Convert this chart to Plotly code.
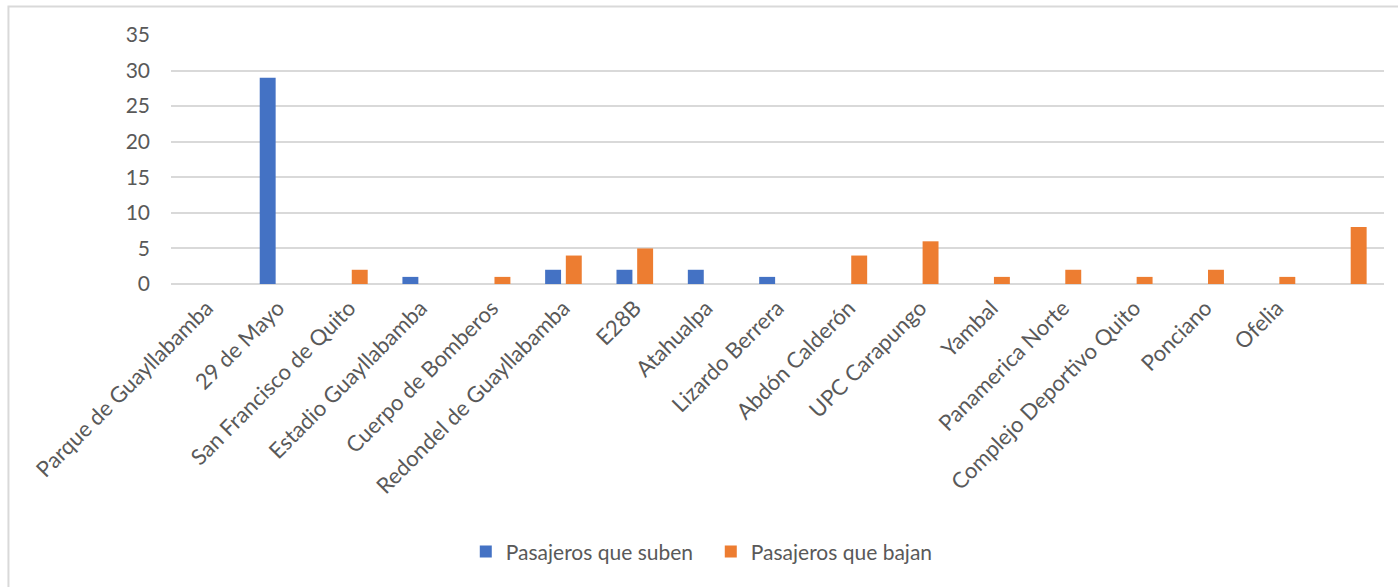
import plotly.graph_objects as go

# Paradas de la ruta (la última categoría no lleva etiqueta)
paradas = [
    "Parque de Guayllabamba", "29 de Mayo", "San Francisco de Quito",
    "Estadio Guayllabamba", "Cuerpo de Bomberos", "Redondel de Guayllabamba",
    "E28B", "Atahualpa", "Lizardo Berrera", "Abdón Calderón", "UPC Carapungo",
    "Yambal", "Panamerica Norte", "Complejo Deportivo Quito", "Ponciano",
    "Ofelia", "",
]
suben = [0, 29, 0, 1, 0, 2, 2, 2, 1, 0, 0, 0, 0, 0, 0, 0, 0]
bajan = [0, 0, 2, 0, 1, 4, 5, 0, 0, 4, 6, 1, 2, 1, 2, 1, 8]
y_ticks = [0, 5, 10, 15, 20, 25, 30, 35]

FONT = "Lato"
TXT = "#595959"
GRID = "#D9D9D9"

pos = list(range(len(paradas)))

fig = go.Figure()
fig.add_trace(go.Bar(x=pos, y=suben, name="Pasajeros que suben",
                     marker=dict(color="#4472C4", line=dict(width=0))))
fig.add_trace(go.Bar(x=pos, y=bajan, name="Pasajeros que bajan",
                     marker=dict(color="#ED7D31", line=dict(width=0))))

fig.update_layout(
    width=1398, height=587,
    margin=dict(l=171, r=14, t=35, b=303),
    paper_bgcolor="white", plot_bgcolor="white",
    barmode="group", bargap=0.42, bargroupgap=0.23,
    font=dict(family=FONT, size=21, color=TXT),
    showlegend=True,
    legend=dict(orientation="h", x=0.445, xanchor="center", y=-1.076,
                yanchor="middle", font=dict(family=FONT, size=21, color=TXT),
                itemwidth=30, entrywidth=200, entrywidthmode="pixels",
                traceorder="normal"),
    xaxis=dict(range=[-0.5, len(paradas) - 0.5], tickmode="array",
               tickvals=pos, ticktext=paradas, tickangle=-45,
               tickfont=dict(family=FONT, size=22, color=TXT),
               showgrid=False, zeroline=False, showline=False, ticks="",
               ticklabelstandoff=6),
    yaxis=dict(range=[0, 35], tickmode="array", tickvals=y_ticks,
               showgrid=True, gridcolor=GRID, gridwidth=2,
               zeroline=True, zerolinecolor=GRID, zerolinewidth=2,
               showline=False, ticks="", ticklabelstandoff=20),
    shapes=[dict(type="rect", xref="paper", yref="paper",
                 x0=-0.134, x1=1.2, y0=-2.0, y1=1.1145,
                 line=dict(color=GRID, width=2), layer="below")],
)

fig.write_html("out.html")
